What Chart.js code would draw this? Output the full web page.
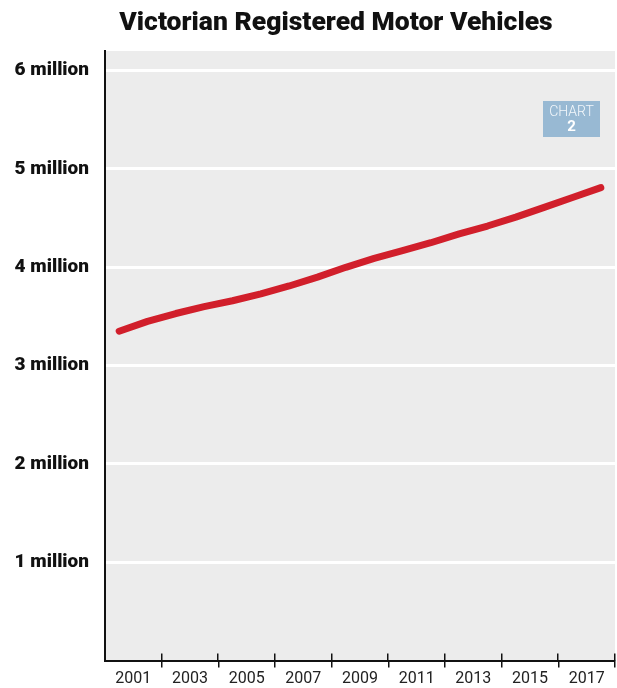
<!DOCTYPE html>
<html>
<head>
<meta charset="utf-8">
<title>Victorian Registered Motor Vehicles</title>
<script src="https://cdn.jsdelivr.net/npm/chart.js@4.4.1/dist/chart.umd.min.js"></script>
<style>
    html, body { margin: 0; padding: 0; background: #fff; }
    #wrap { width: 617px; height: 688px; }
</style>
</head>
<body>
<div id="wrap"><canvas id="vehiclesChart" width="617" height="688"></canvas></div>
<script>
// registrations by year, millions (plotted mid-year)
const years = [2000, 2001, 2002, 2003, 2004, 2005, 2006, 2007, 2008, 2009, 2010, 2011, 2012, 2013, 2014, 2015, 2016, 2017];
const vehicles = [3.35, 3.45, 3.53, 3.60, 3.66, 3.73, 3.81, 3.90, 4.00, 4.09, 4.17, 4.25, 4.34, 4.42, 4.51, 4.61, 4.71, 4.81];
const yTicks = [1, 2, 3, 4, 5, 6];
const xTicks = [2001, 2002, 2003, 2004, 2005, 2006, 2007, 2008, 2009, 2010, 2011, 2012, 2013, 2014, 2015, 2016, 2017, 2018];
const chartTitle = "Victorian Registered Motor Vehicles";
const badgeText = ["CHART", "2"];

const plotBg = {
    id: "plotBg",
    beforeDraw(chart) {
        const { ctx, chartArea } = chart;
        ctx.save();
        ctx.fillStyle = "#ececec";
        ctx.fillRect(chartArea.left, chartArea.top, chartArea.right - chartArea.left, chartArea.bottom - chartArea.top);
        ctx.restore();
    }
};

const extras = {
    id: "extras",
    afterDraw(chart) {
        const { ctx, chartArea } = chart;
        const x = chart.scales.x;
        ctx.save();

        // tick marks also poke up into the plot
        ctx.strokeStyle = "#111";
        ctx.lineWidth = 1.5;
        x.ticks.forEach(t => {
            if (t.value % 2 === 0) {
                const px = Math.round(x.getPixelForValue(t.value)) - 0.25;
                ctx.beginPath();
                ctx.moveTo(px, chartArea.bottom - 7);
                ctx.lineTo(px, chartArea.bottom);
                ctx.stroke();
            }
        });

        // headline
        ctx.fillStyle = "#111";
        ctx.font = "900 26.5px Roboto";
        ctx.textAlign = "center";
        ctx.textBaseline = "alphabetic";
        ctx.fillText(chartTitle, 336, 30);

        // chart number badge
        ctx.fillStyle = "#98b9d3";
        ctx.fillRect(543, 101, 57, 36);
        ctx.fillStyle = "#f4f8fb";
        ctx.textBaseline = "middle";
        ctx.font = "300 14px Roboto";
        ctx.fillText(badgeText[0], 571.5, 112);
        ctx.fillStyle = "#ffffff";
        ctx.font = "bold 15px Roboto";
        ctx.fillText(badgeText[1], 571.5, 127.5);
        ctx.restore();
    }
};

new Chart(document.getElementById("vehiclesChart"), {
    type: "line",
    data: {
        datasets: [{
            data: years.map((yr, i) => ({ x: yr + 0.5, y: vehicles[i] })),
            borderColor: "#d11f2b",
            borderWidth: 7,
            borderCapStyle: "round",
            borderJoinStyle: "round",
            pointRadius: 0,
            tension: 0,
            fill: false
        }]
    },
    options: {
        responsive: false,
        animation: false,
        layout: { padding: { top: 51, right: 0, left: 0, bottom: 0 } },
        plugins: {
            legend: { display: false },
            title: { display: false },
            tooltip: { enabled: false }
        },
        scales: {
            x: {
                type: "linear",
                min: 2000,
                max: 2018,
                afterBuildTicks: s => { s.ticks = xTicks.map(v => ({ value: v })); },
                afterFit: s => { s.height = 24; },
                border: { display: true, color: "#111", width: 2 },
                grid: {
                    drawOnChartArea: false,
                    drawTicks: true,
                    tickLength: 7,
                    lineWidth: 1.5,
                    color: ctx => (ctx.tick && ctx.tick.value % 2 === 0) ? "#111" : "rgba(0,0,0,0)"
                },
                ticks: {
                    autoSkip: false,
                    maxRotation: 0,
                    padding: 2,
                    color: "#222",
                    font: { family: "Roboto", size: 16 },
                    callback: v => (v % 2 === 1 ? String(v) : "")
                }
            },
            y: {
                min: 0,
                max: 6.2,
                afterBuildTicks: s => { s.ticks = yTicks.map(v => ({ value: v })); },
                afterFit: s => { s.width = 105; },
                border: { display: true, color: "#111", width: 2 },
                grid: {
                    drawTicks: false,
                    color: "#ffffff",
                    lineWidth: 3
                },
                ticks: {
                    padding: 16,
                    color: "#111",
                    font: { family: "Roboto", size: 19, weight: "900" },
                    callback: v => v + " million"
                }
            }
        }
    },
    plugins: [plotBg, extras]
});
</script>
</body>
</html>
